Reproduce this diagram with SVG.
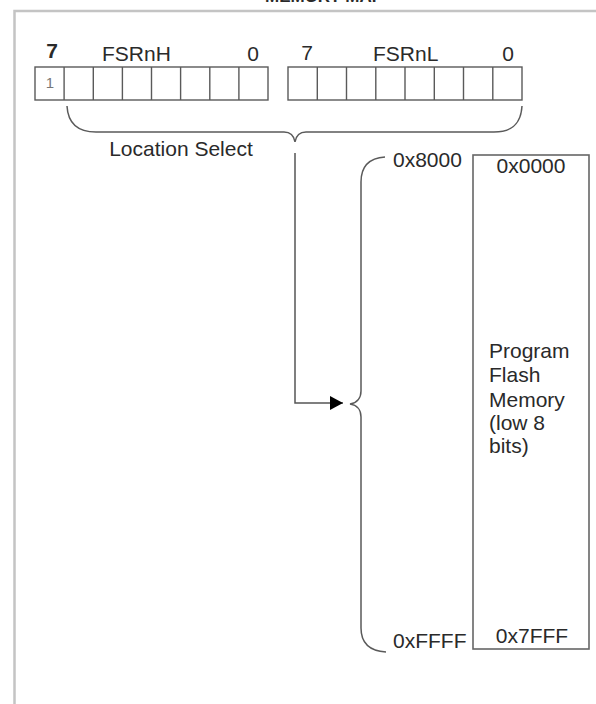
<svg xmlns="http://www.w3.org/2000/svg" width="596" height="704" viewBox="0 0 596 704">
<style>
text{font-family:"Liberation Sans",Arial,sans-serif;fill:#2a2a2a;font-size:21px}
.frame{fill:none;stroke:#c4c4c4;stroke-width:2.5}
.reg{fill:#fff;stroke:#5a5a5a;stroke-width:1.4}
.div{stroke:#5a5a5a;stroke-width:1.4}
.brace{fill:none;stroke:#5a5a5a;stroke-width:1.5}
.conn{fill:none;stroke:#555;stroke-width:1.5}
.mem{fill:#fff;stroke:#666;stroke-width:1.6}
.mid{text-anchor:middle}
</style>
<defs>
<marker id="arr" markerUnits="userSpaceOnUse" markerWidth="14" markerHeight="15" refX="13" refY="7" orient="auto">
<path d="M0,0 L13,7 L0,14 z" fill="#000"/>
</marker>
</defs>
<text x="324" y="2" class="mid" style="font-weight:bold;font-size:17px">MEMORY MAP</text>
<path class="frame" d="M14.5,704 L14.5,11 L596,11"/>
<g id="fsrnh">
<text x="52" y="58" class="mid" style="font-weight:bold">7</text>
<text x="102" y="61">FSRnH</text>
<text x="253" y="61" class="mid">0</text>
<rect class="reg" x="35" y="67" width="233" height="33"/>
<path class="div" d="M64.1,67V100M93.3,67V100M122.4,67V100M151.5,67V100M180.6,67V100M209.8,67V100M238.9,67V100"/>
<text x="50" y="88" class="mid" style="font-size:15px;fill:#777">1</text>
</g>
<g id="fsrnl">
<text x="307" y="60" class="mid">7</text>
<text x="373" y="61">FSRnL</text>
<text x="508" y="61" class="mid">0</text>
<rect class="reg" x="288" y="67" width="234" height="33"/>
<path class="div" d="M317.3,67V100M346.5,67V100M375.8,67V100M405,67V100M434.3,67V100M463.5,67V100M492.8,67V100"/>
</g>
<g id="location-select">
<path class="brace" d="M67,106 C68,124 78,132 96,132 L284,132 C290,132 294,136 295,142 C296,136 300,132 306,132 L494,132 C512,132 521,124 522,106"/>
<text x="181" y="156" class="mid">Location Select</text>
</g>
<g id="address-range">
<path class="brace" d="M385,157 C370,158 361,166 361,182 L361,391 C361,398 357,403 350,404 C357,405 361,410 361,417 L361,628 C361,643 370,651 386,652"/>
<text x="393" y="167">0x8000</text>
<text x="393" y="648">0xFFFF</text>
</g>
<g id="program-flash">
<rect class="mem" x="473" y="155" width="116" height="494"/>
<text x="531" y="173" class="mid">0x0000</text>
<text x="532" y="643" class="mid">0x7FFF</text>
<text x="489" y="358">Program</text>
<text x="489" y="382">Flash</text>
<text x="489" y="407">Memory</text>
<text x="489" y="430">(low 8</text>
<text x="489" y="453">bits)</text>
</g>
<g id="connectors">
<path class="conn" d="M295,153 L295,403 L343,403" marker-end="url(#arr)"/>
</g>
</svg>
